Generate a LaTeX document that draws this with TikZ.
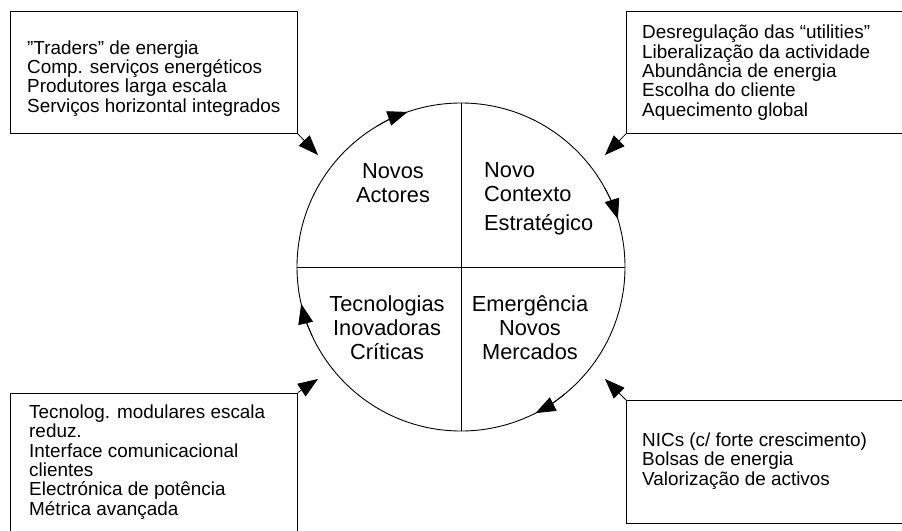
\documentclass[tikz,border=0pt]{standalone}
\usepackage{fontspec}
\setmainfont{Liberation Sans}
\usetikzlibrary{arrows.meta}
\begin{document}
\begin{tikzpicture}[x=1pt,y=-1pt,
  boxframe/.style={draw, line width=0.9pt, rectangle, inner sep=0pt, anchor=north west},
  boxtext/.style={anchor=base west, align=left, inner sep=0pt, font=\fontsize{18.9}{19.3}\selectfont},
  circtext/.style={anchor=base, align=center, inner sep=0pt, font=\fontsize{21.8}{23.8}\selectfont},
  feed/.style={line width=0.8pt, -{Triangle[length=20pt,width=15pt]}},
  circarrow/.style={line width=0.8pt, -{Triangle[length=20pt,width=15pt]}}]
\useasboundingbox (0,0) rectangle (902,530);
\clip (0,0) rectangle (902,530);
\fill[white] (0,0) rectangle (902,530);

% circle and quadrants
\node[circle, draw, line width=0.9pt, minimum size=328pt, inner sep=0pt] (c) at (461,267) {};
\draw[line width=0.9pt] (c.north) -- (c.south);
\draw[line width=0.9pt] (c.west) -- (c.east);

\begin{scope}[shift={(461,267)}, y=1pt]
  \draw[circarrow] (121:164) arc[start angle=121, end angle=109, radius=164];
  \draw[circarrow] (29:164) arc[start angle=29, end angle=17, radius=164];
  \draw[circarrow] (-51:164) arc[start angle=-51, end angle=-63, radius=164];
  \draw[circarrow] (205:164) arc[start angle=205, end angle=193, radius=164];
\end{scope}

% circle texts (anchored at the baseline of the last line)
\node[circtext] (na) at (393,202) {Novos\\Actores};
\node[circtext, anchor=base west, align=left] (nc) at (484,230) {Novo\\Contexto\\[4.5pt]Estratégico};
\node[circtext] (ti) at (387,359) {Tecnologias\\Inovadoras\\Críticas};
\node[circtext] (em) at (530,359) {Emergência\\Novos\\Mercados};

% boxes
\node[boxframe, minimum width=287pt, minimum height=122.5pt] (b1) at (10,10.5) {};
\node[boxframe, minimum width=300pt, minimum height=122.5pt] (b2) at (626,10.5) {};
\node[boxframe, minimum width=287.5pt, minimum height=160pt] (b3) at (9.5,392.5) {};
\node[boxframe, minimum width=300pt, minimum height=123pt] (b4) at (626,400) {};

\node[boxtext] (t1) at (27,112) {"Traders" de energia\\Comp. serviços energéticos\\Produtores larga escala\\Serviços horizontal integrados};
\node[boxtext] (t2) at (642,116) {Desregulação das “utilities”\\Liberalização da actividade\\Abundância de energia\\Escolha do cliente\\Aquecimento global};
\node[boxtext] (t3) at (29,515) {Tecnolog. modulares escala\\reduz.\\Interface comunicacional\\clientes\\Electrónica de potência\\Métrica avançada};
\node[boxtext] (t4) at (642,485) {NICs (c/ forte crescimento)\\Bolsas de energia\\Valorização de activos};

% feed arrows
\coordinate (a1) at (318,155);
\coordinate (a2) at (605,155);
\coordinate (a3) at (318,379);
\coordinate (a4) at (605,379);
\draw[feed] (b1.south east) -- (a1);
\draw[feed] (b2.south west) -- (a2);
\draw[feed] (b3.north east) -- (a3);
\draw[feed] (b4.north west) -- (a4);
\end{tikzpicture}
\end{document}
